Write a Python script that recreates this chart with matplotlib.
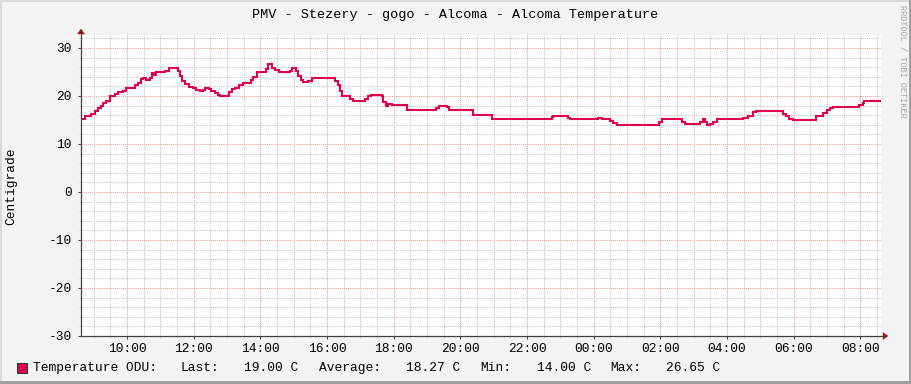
import matplotlib
matplotlib.use("Agg")
import matplotlib.pyplot as plt
from matplotlib.ticker import FixedLocator, MultipleLocator
from matplotlib.patches import Rectangle, Polygon

# ---------------- data ----------------
title = "PMV - Stezery - gogo - Alcoma - Alcoma Temperature"
ylabel = "Centigrade"
series_name = "Temperature ODU:"
watermark = "RRDTOOL / TOBI OETIKER"
start_hour = 8 + 37 / 60.0          # 08:37 start of the 24h window
span_minutes = 1440

# minutes since start at which the value changes (step series)
minutes = [0, 6.6, 18.6, 24.6, 30.6, 35.4, 39.6, 45.6, 51.6, 60.6, 66.6, 75.6,
           81.6, 90.6, 97.8, 102.6, 108.6, 111.6, 117.6, 123.6, 127.8, 131.4,
           135.6, 141.6, 151.8, 157.8, 174.6, 177.6, 181.8, 187.8, 193.8, 201.6,
           207.6, 213.6, 219.6, 223.8, 229.8, 234.6, 240.6, 247.2, 250.2, 266.4,
           271.2, 277.2, 284.4, 292.2, 306, 310.2, 316.2, 322.2, 332.4, 337.2,
           343.2, 349.2, 356.4, 376.2, 380.4, 386.4, 391.2, 396, 400.2, 409.2,
           415.2, 451.2, 457.2, 462, 466.2, 470.4, 484.2, 489, 511.2, 517.2,
           521.4, 541.2, 544.2, 549, 553.2, 559.2, 586.2, 639, 645, 658.2, 663,
           705, 739.2, 847.2, 850.2, 877.2, 880.2, 931.2, 937.2, 952.2, 958.2,
           964.2, 1041, 1045.2, 1081.2, 1087.2, 1114.2, 1119, 1123.2, 1126.2,
           1132.2, 1138.2, 1144.2, 1192.2, 1201.2, 1210.2, 1215, 1263, 1269,
           1275, 1282.2, 1323, 1335, 1342.2, 1348.2, 1354.2, 1372.2, 1383, 1401,
           1407, 1409.4, 1440]
temps = [15.2, 15.8, 16.2, 16.8, 17.4, 18.0, 18.5, 19.0, 19.9, 20.4, 20.9, 21.0,
         21.7, 21.6, 22.3, 22.8, 23.5, 23.7, 23.4, 23.7, 24.8, 24.3, 24.9, 25.0,
         25.3, 25.9, 25.2, 24.2, 23.2, 22.5, 21.8, 21.7, 21.3, 21.0, 21.2, 21.7,
         21.4, 21.0, 20.6, 20.2, 19.9, 20.9, 21.4, 21.7, 22.3, 22.8, 23.4, 23.9,
         24.9, 25.0, 25.6, 26.65, 25.9, 25.4, 24.9, 25.2, 25.9, 25.2, 24.2, 23.4,
         23.0, 23.2, 23.8, 23.7, 23.2, 22.3, 21.1, 19.9, 19.4, 19.0, 19.3, 19.9,
         20.1, 19.9, 18.8, 18.0, 18.3, 18.1, 17.0, 17.5, 18.0, 17.6, 17.0, 16.0,
         15.2, 15.6, 15.9, 15.5, 15.2, 15.4, 15.2, 14.7, 14.3, 14.0, 14.6, 15.1,
         14.6, 14.1, 14.6, 15.1, 14.6, 14.0, 14.2, 14.6, 15.1, 15.4, 15.8, 16.6,
         16.8, 16.3, 15.8, 15.3, 15.0, 15.8, 16.5, 17.0, 17.4, 17.8, 17.6, 17.8,
         18.1, 18.5, 19.0, 19.0]

ytick_values = [-30, -20, -10, 0, 10, 20, 30]
xtick_hours = [10, 12, 14, 16, 18, 20, 22, 24, 26, 28, 30, 32]
xtick_labels = ["10:00", "12:00", "14:00", "16:00", "18:00", "20:00",
                "22:00", "00:00", "02:00", "04:00", "06:00", "08:00"]
stat_names = ["Last:", "Average:", "Min:", "Max:"]
stat_values = ["19.00 C", "18.27 C", "14.00 C", "26.65 C"]

# ---------------- style ----------------
W, H = 911, 384
BACK = "#f3f3f3"
LINE = "#e0004e"
GRID_MINOR = "#c4c4c4"
GRID_MAJOR = "#e79a9a"
AXIS = "#404040"
ARROW = "#a01818"
MONO = ["Liberation Mono", "DejaVu Sans Mono"]
FS = 9.3

fig = plt.figure(figsize=(W / 100, H / 100), dpi=100, facecolor=BACK)

def fx(px):
    return px / W

def fy(py):
    return 1 - py / H

left, right, top, bottom = 81, 881, 35, 336
ax = fig.add_axes([fx(left), fy(bottom), fx(right - left), (bottom - top) / H])
ax.set_facecolor("white")

x = [start_hour + m / 60.0 for m in minutes]
ax.plot(x, temps, drawstyle="steps-post", color=LINE, lw=1.5, zorder=5,
        solid_joinstyle="miter")

ax.set_xlim(start_hour, start_hour + span_minutes / 60.0)
ax.set_ylim(-30, 32.7)

ax.xaxis.set_major_locator(FixedLocator(xtick_hours))
ax.set_xticklabels(xtick_labels)
ax.xaxis.set_minor_locator(MultipleLocator(0.5))
ax.yaxis.set_major_locator(FixedLocator(ytick_values))
ax.set_yticklabels([str(v) for v in ytick_values])
ax.yaxis.set_minor_locator(MultipleLocator(2))

ax.grid(which="minor", color=GRID_MINOR, linestyle=(0, (1, 1)), lw=0.75, zorder=1)
ax.grid(which="major", color=GRID_MAJOR, linestyle=(0, (1, 1)), lw=0.75, zorder=2)
ax.set_axisbelow(True)

for s in ("top", "right"):
    ax.spines[s].set_visible(False)
for s in ("left", "bottom"):
    ax.spines[s].set_color(AXIS)
    ax.spines[s].set_linewidth(0.8)

ax.tick_params(which="major", direction="out", length=2.2, width=0.7,
               color=AXIS, labelsize=FS, labelcolor="black")
ax.tick_params(which="minor", direction="out", length=1.5, width=0.6,
               color=GRID_MINOR)
ax.tick_params(axis="y", which="major", pad=4.3)
ax.tick_params(axis="x", which="major", pad=2.5)
for lab in ax.get_xticklabels() + ax.get_yticklabels():
    lab.set_family(MONO)

# axis arrows
fig.add_artist(Polygon([(fx(left - 3.5), fy(34)), (fx(left + 3.5), fy(34)),
                        (fx(left), fy(29))], closed=True, transform=fig.transFigure,
                       facecolor=ARROW, edgecolor=ARROW, lw=0.3))
fig.add_artist(Polygon([(fx(right + 2), fy(bottom - 3.5)), (fx(right + 2), fy(bottom + 3.5)),
                        (fx(right + 7), fy(bottom))], closed=True, transform=fig.transFigure,
                       facecolor=ARROW, edgecolor=ARROW, lw=0.3))
fig.add_artist(plt.Line2D([fx(left), fx(left)], [fy(bottom), fy(31)],
                          transform=fig.transFigure, color=AXIS, lw=0.8))
fig.add_artist(plt.Line2D([fx(left), fx(right + 4)], [fy(bottom), fy(bottom)],
                          transform=fig.transFigure, color=AXIS, lw=0.8))

# texts
fig.text(0.5, fy(15), title, ha="center", va="center", family=MONO,
         fontsize=9.7, color="black")
fig.text(fx(11), fy(186), ylabel, ha="center", va="center", rotation=90,
         family=MONO, fontsize=FS, color="black")
fig.text(fx(902.5), fy(61), watermark, ha="center", va="center", rotation=270,
         family=MONO, fontsize=6.2, color="#a8a8a8")

# legend
legend_y = fy(368)
fig.add_artist(Rectangle((fx(17), fy(373)), fx(10), 10 / H, transform=fig.transFigure,
                         facecolor=LINE, edgecolor="#303030", lw=0.7))
fig.text(fx(33), legend_y, series_name, ha="left", va="center", family=MONO,
         fontsize=FS, color="black")
name_x = [180, 318.6, 480, 610.5]
value_x = [244, 405.8, 536.6, 665.7]
for nm, val, nx, vx in zip(stat_names, stat_values, name_x, value_x):
    fig.text(fx(nx), legend_y, nm, ha="left", va="center", family=MONO,
             fontsize=FS, color="black")
    fig.text(fx(vx), legend_y, val, ha="left", va="center", family=MONO,
             fontsize=FS, color="black")

# 3D-ish frame
fig.add_artist(Rectangle((0, 1 - 2 / H), 1, 2 / H, transform=fig.transFigure,
                         facecolor="#d8d8d8", edgecolor="none"))
fig.add_artist(Rectangle((0, 0), 2 / W, 1, transform=fig.transFigure,
                         facecolor="#d8d8d8", edgecolor="none"))
fig.add_artist(Rectangle((0, 0), 1, 3 / H, transform=fig.transFigure,
                         facecolor="#a0a0a0", edgecolor="none"))
fig.add_artist(Rectangle((1 - 2 / W, 0), 2 / W, 1, transform=fig.transFigure,
                         facecolor="#a0a0a0", edgecolor="none"))

fig.savefig("out.png", dpi=100, facecolor=BACK)
